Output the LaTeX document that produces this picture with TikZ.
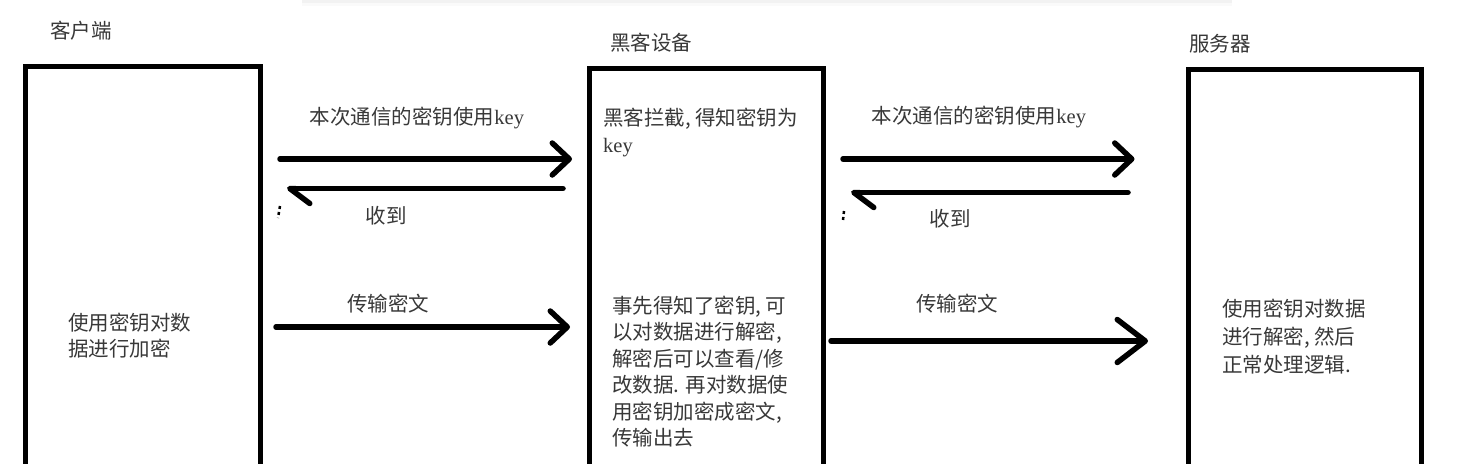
\documentclass[tikz,border=0pt]{standalone}
\usepackage{fontspec}
\setmainfont{Noto Sans CJK SC}
\newfontfamily\latfont{Liberation Serif}
\usetikzlibrary{arrows.meta, positioning, calc}
\newcommand{\kw}{{\latfont key}}
\newcommand{\cma}{,\hspace{0.22em}}

\begin{document}
\begin{tikzpicture}[
			x=1pt, y=-1pt,
			frame/.style={rectangle, draw, line width=5pt, anchor=north west, minimum height=480pt, inner sep=0pt, outer sep=0pt},
			txt/.style={text=black!78, font=\fontsize{20.5}{26.5}\selectfont, inner sep=0pt},
			para/.style={txt, anchor=north west, align=left},
			arr/.style={-{Straight Barb[length=17pt, width=32pt, round]}, line width=5.5pt, line cap=round},
			back/.style={-{Straight Barb[left, length=20pt, width=30pt, round]}, line width=5.5pt, line cap=round},
			tick/.style={line width=2.5pt, dash pattern=on 3pt off 3pt}
			]
			\useasboundingbox (0,0) rectangle (1471,463);
			\clip (0,0) rectangle (1471,463);
			% 顶部阴影
			\fill[black!2] (302,0) rectangle (1232,6);
			\fill[black!5] (302,0) rectangle (1232,2.5);
			
			% 三个方框
			\node[frame, minimum width=235pt] (client) at (25,66) {};
			\node[frame, minimum width=233.5pt] (hacker) at (589.5,68.5) {};
			\node[frame, minimum width=233pt] (server) at (1188.5,69.5) {};
			\node[txt] (tclient) at (81,31) {客户端};
			\node[txt] (thacker) at (651,43) {黑客设备};
			\node[txt] (tserver) at (1220,44) {服务器};
			
			% 框内文字
			\node[para, font=\fontsize{20.5}{26}\selectfont] (pclient) at (68,312.5) {使用密钥对数\\据进行加密};
			\node[para, font=\fontsize{20.5}{27}\selectfont] (phack1) at (603,107.5) {黑客拦截\cma 得知密钥为\\\kw};
			\node[para] (phack2) at (612,295.5) {事先得知了密钥\cma 可\\以对数据进行解密,\\解密后可以查看/修\\改数据. 再对数据使\\用密钥加密成密文,\\传输出去};
			\node[para, font=\fontsize{20.5}{28}\selectfont] (pserver) at (1222,298.5) {使用密钥对数据\\进行解密\cma 然后\\正常处理逻辑.};
			
			% 各行高度
			\coordinate (r1) at (0,159);
			\coordinate (r2) at (0,188.5);
			\coordinate (r3) at (0,327);
			\coordinate (r4) at (0,192.5);
			\coordinate (r5) at (0,341);
			
			% 客户端 -> 黑客: 密钥
			\draw[arr, shorten <=20pt, shorten >=17.5pt] (client.east |- r1) -- (hacker.west |- r1);
			\node[txt] (k1) at (417,118) {本次通信的密钥使用\kw};
			% 黑客 -> 客户端: 收到
			\draw[back, shorten <=26.5pt, shorten >=27pt] (hacker.west |- r2) -- (client.east |- r2);
			\draw[tick] (280,206) -- (278,218);
			\node[txt] (k2) at (386,216) {收到};
			% 客户端 -> 黑客: 密文
			\draw[arr, shorten <=16pt, shorten >=19.5pt] (client.east |- r3) -- (hacker.west |- r3);
			\node[txt] (k3) at (388,304) {传输密文};
			
			% 黑客 -> 服务器: 密钥
			\draw[arr, shorten <=20pt, shorten >=54pt] (hacker.east |- r1) -- (server.west |- r1);
			\node[txt] (k4) at (979,117) {本次通信的密钥使用\kw};
			% 服务器 -> 黑客: 收到
			\draw[back, shorten <=60.5pt, shorten >=28pt] (server.west |- r4) -- (hacker.east |- r4);
			\draw[tick] (844,211) -- (843,220);
			\node[txt] (k5) at (950,219) {收到};
			% 黑客 -> 服务器: 密文
			\draw[-{Straight Barb[length=28pt, width=43pt, round]}, line width=5.5pt, line cap=round, shorten <=8pt, shorten >=40.5pt] (hacker.east |- r5) -- (server.west |- r5);
			\node[txt] (k6) at (957,304) {传输密文};
		\end{tikzpicture}
\end{document}
